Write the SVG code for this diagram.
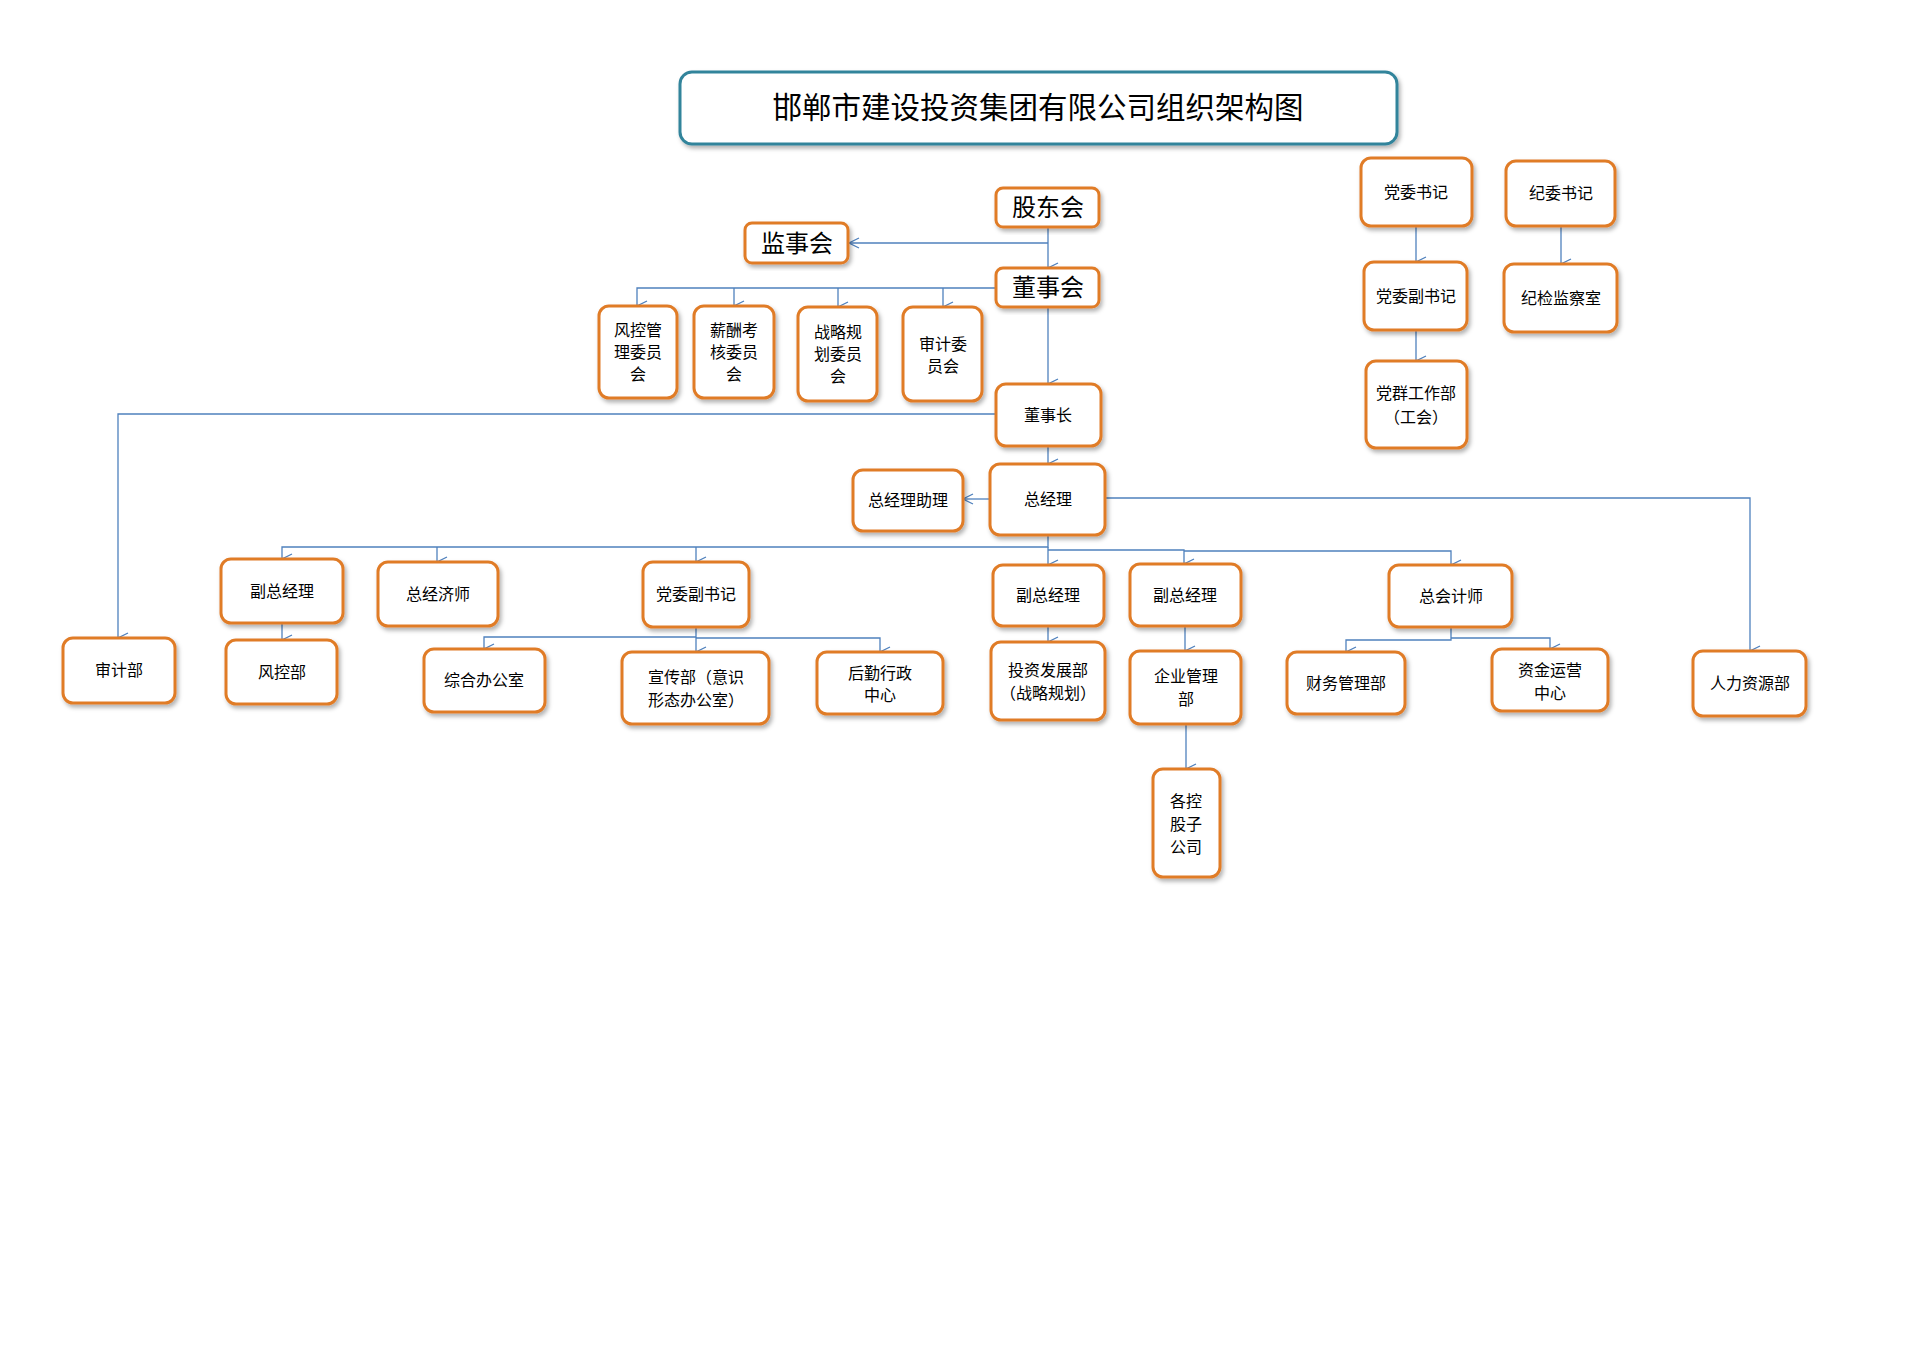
<svg xmlns="http://www.w3.org/2000/svg" width="1920" height="1357" viewBox="0 0 1920 1357">
<defs>
<filter id="sh" x="-10%" y="-10%" width="130%" height="130%"><feDropShadow dx="2" dy="3" stdDeviation="2" flood-color="#000" flood-opacity="0.3"/></filter>
<marker id="ar" markerWidth="14" markerHeight="14" refX="7" refY="13" orient="auto" markerUnits="userSpaceOnUse" viewBox="0 0 14 14"><path d="M2,3 L7,13 L12,3" fill="none" stroke="#4F81BD" stroke-width="1.3"/></marker>
<marker id="al" markerWidth="14" markerHeight="14" refX="1" refY="7" orient="0" markerUnits="userSpaceOnUse" viewBox="0 0 14 14"><path d="M11,2 L1,7 L11,12" fill="none" stroke="#4F81BD" stroke-width="1.3"/></marker>
</defs>
<style>
.n rect{fill:#fff;stroke:#E07B28;stroke-width:3;filter:url(#sh)}
.n text{font-family:"Noto Sans CJK SC","Noto Sans",sans-serif;font-size:16px;fill:#000;text-anchor:middle}
.big text{font-size:24px}
.c path{fill:none;stroke:#4F81BD;stroke-width:1.3}
</style>
<rect width="1920" height="1357" fill="#fff"/>
<g id="title"><rect x="680" y="72" width="717" height="72" rx="12" fill="#fff" stroke="#31849B" stroke-width="3" filter="url(#sh)"/><text x="1038" y="118" font-family="'Noto Sans CJK SC',sans-serif" font-size="29.5" text-anchor="middle">邯郸市建设投资集团有限公司组织架构图</text></g>
<g class="c" id="connectors">
<path d="M1048,227 V268" marker-end="url(#ar)"/>
<path d="M1048,243 H849" marker-end="url(#al)"/>
<path d="M996,288 H637 V306" marker-end="url(#ar)"/>
<path d="M734,288 V306" marker-end="url(#ar)"/>
<path d="M838,288 V307" marker-end="url(#ar)"/>
<path d="M943,288 V307" marker-end="url(#ar)"/>
<path d="M1048,307 V384" marker-end="url(#ar)"/>
<path d="M996,414 H118 V638" marker-end="url(#ar)"/>
<path d="M1048,446 V464" marker-end="url(#ar)"/>
<path d="M990,499 H963" marker-end="url(#al)"/>
<path d="M1105,498 H1750 V651" marker-end="url(#ar)"/>
<path d="M1048,535 V547 H282 V559" marker-end="url(#ar)"/>
<path d="M437,547 V562" marker-end="url(#ar)"/>
<path d="M696,547 V562" marker-end="url(#ar)"/>
<path d="M1048,547 V565" marker-end="url(#ar)"/>
<path d="M1048,550 H1184 V564" marker-end="url(#ar)"/>
<path d="M1184,551 H1451 V565" marker-end="url(#ar)"/>
<path d="M282,623 V640" marker-end="url(#ar)"/>
<path d="M696,627 V637 H484 V649" marker-end="url(#ar)"/>
<path d="M696,637 V652" marker-end="url(#ar)"/>
<path d="M696,638 H880 V652" marker-end="url(#ar)"/>
<path d="M1048,626 V642" marker-end="url(#ar)"/>
<path d="M1185,626 V651" marker-end="url(#ar)"/>
<path d="M1186,724 V769" marker-end="url(#ar)"/>
<path d="M1451,627 V640 H1346 V652" marker-end="url(#ar)"/>
<path d="M1451,638 H1550 V649" marker-end="url(#ar)"/>
<path d="M1416,226 V262" marker-end="url(#ar)"/>
<path d="M1416,330 V361" marker-end="url(#ar)"/>
<path d="M1561,226 V264" marker-end="url(#ar)"/>
</g>
<g class="n big" id="gdh"><rect x="996" y="188" width="103" height="39" rx="7"/><text x="1048" y="216">股东会</text></g>
<g class="n big" id="jsh"><rect x="745" y="223" width="103" height="40" rx="7"/><text x="797" y="252">监事会</text></g>
<g class="n big" id="dsh"><rect x="996" y="268" width="103" height="39" rx="7"/><text x="1048" y="296">董事会</text></g>
<g class="n" id="fk"><rect x="599" y="306" width="78" height="92" rx="10"/><text x="638" y="336">风控管</text><text x="638" y="358">理委员</text><text x="638" y="380">会</text></g>
<g class="n" id="xc"><rect x="694" y="306" width="80" height="92" rx="10"/><text x="734" y="336">薪酬考</text><text x="734" y="358">核委员</text><text x="734" y="380">会</text></g>
<g class="n" id="zl"><rect x="798" y="307" width="79" height="94" rx="10"/><text x="838" y="338">战略规</text><text x="838" y="360">划委员</text><text x="838" y="382">会</text></g>
<g class="n" id="sjw"><rect x="903" y="307" width="79" height="94" rx="10"/><text x="943" y="350">审计委</text><text x="943" y="372">员会</text></g>
<g class="n" id="dsz"><rect x="996" y="384" width="105" height="62" rx="10"/><text x="1048" y="421">董事长</text></g>
<g class="n" id="zjl"><rect x="990" y="464" width="115" height="71" rx="10"/><text x="1048" y="505">总经理</text></g>
<g class="n" id="zjlzl"><rect x="853" y="470" width="110" height="61" rx="10"/><text x="908" y="506">总经理助理</text></g>
<g class="n" id="fzjl1"><rect x="221" y="559" width="122" height="64" rx="10"/><text x="282" y="597">副总经理</text></g>
<g class="n" id="zjjs"><rect x="378" y="562" width="120" height="64" rx="10"/><text x="438" y="600">总经济师</text></g>
<g class="n" id="dwfsj2"><rect x="643" y="562" width="106" height="65" rx="10"/><text x="696" y="600">党委副书记</text></g>
<g class="n" id="fzjl2"><rect x="993" y="565" width="111" height="61" rx="10"/><text x="1048" y="601">副总经理</text></g>
<g class="n" id="fzjl3"><rect x="1130" y="564" width="111" height="62" rx="10"/><text x="1185" y="601">副总经理</text></g>
<g class="n" id="zkjs"><rect x="1389" y="565" width="123" height="62" rx="10"/><text x="1451" y="602">总会计师</text></g>
<g class="n" id="sjb"><rect x="63" y="638" width="112" height="65" rx="10"/><text x="119" y="676">审计部</text></g>
<g class="n" id="fkb"><rect x="226" y="640" width="111" height="64" rx="10"/><text x="282" y="678">风控部</text></g>
<g class="n" id="zhbgs"><rect x="424" y="649" width="121" height="63" rx="10"/><text x="484" y="686">综合办公室</text></g>
<g class="n" id="xcb"><rect x="622" y="652" width="147" height="72" rx="10"/><text x="696" y="683">宣传部（意识</text><text x="696" y="706">形态办公室）</text></g>
<g class="n" id="hq"><rect x="817" y="652" width="126" height="62" rx="10"/><text x="880" y="679">后勤行政</text><text x="880" y="701">中心</text></g>
<g class="n" id="tzfz"><rect x="991" y="642" width="114" height="78" rx="10"/><text x="1048" y="676">投资发展部</text><text x="1048" y="699">（战略规划）</text></g>
<g class="n" id="qygl"><rect x="1130" y="651" width="111" height="73" rx="10"/><text x="1186" y="682">企业管理</text><text x="1186" y="705">部</text></g>
<g class="n" id="gkgs"><rect x="1153" y="769" width="67" height="108" rx="10"/><text x="1186" y="807">各控</text><text x="1186" y="830">股子</text><text x="1186" y="853">公司</text></g>
<g class="n" id="cwgl"><rect x="1287" y="652" width="118" height="62" rx="10"/><text x="1346" y="689">财务管理部</text></g>
<g class="n" id="zjyy"><rect x="1492" y="649" width="116" height="62" rx="10"/><text x="1550" y="676">资金运营</text><text x="1550" y="699">中心</text></g>
<g class="n" id="rlzy"><rect x="1693" y="651" width="113" height="65" rx="10"/><text x="1750" y="689">人力资源部</text></g>
<g class="n" id="dwsj"><rect x="1361" y="158" width="111" height="68" rx="10"/><text x="1416" y="198">党委书记</text></g>
<g class="n" id="jwsj"><rect x="1506" y="161" width="109" height="65" rx="10"/><text x="1561" y="199">纪委书记</text></g>
<g class="n" id="dwfsj"><rect x="1364" y="262" width="103" height="68" rx="10"/><text x="1416" y="302">党委副书记</text></g>
<g class="n" id="jjjcs"><rect x="1504" y="264" width="113" height="68" rx="10"/><text x="1561" y="304">纪检监察室</text></g>
<g class="n" id="dqgz"><rect x="1366" y="361" width="101" height="87" rx="10"/><text x="1416" y="399">党群工作部</text><text x="1416" y="423">（工会）</text></g>
</svg>
